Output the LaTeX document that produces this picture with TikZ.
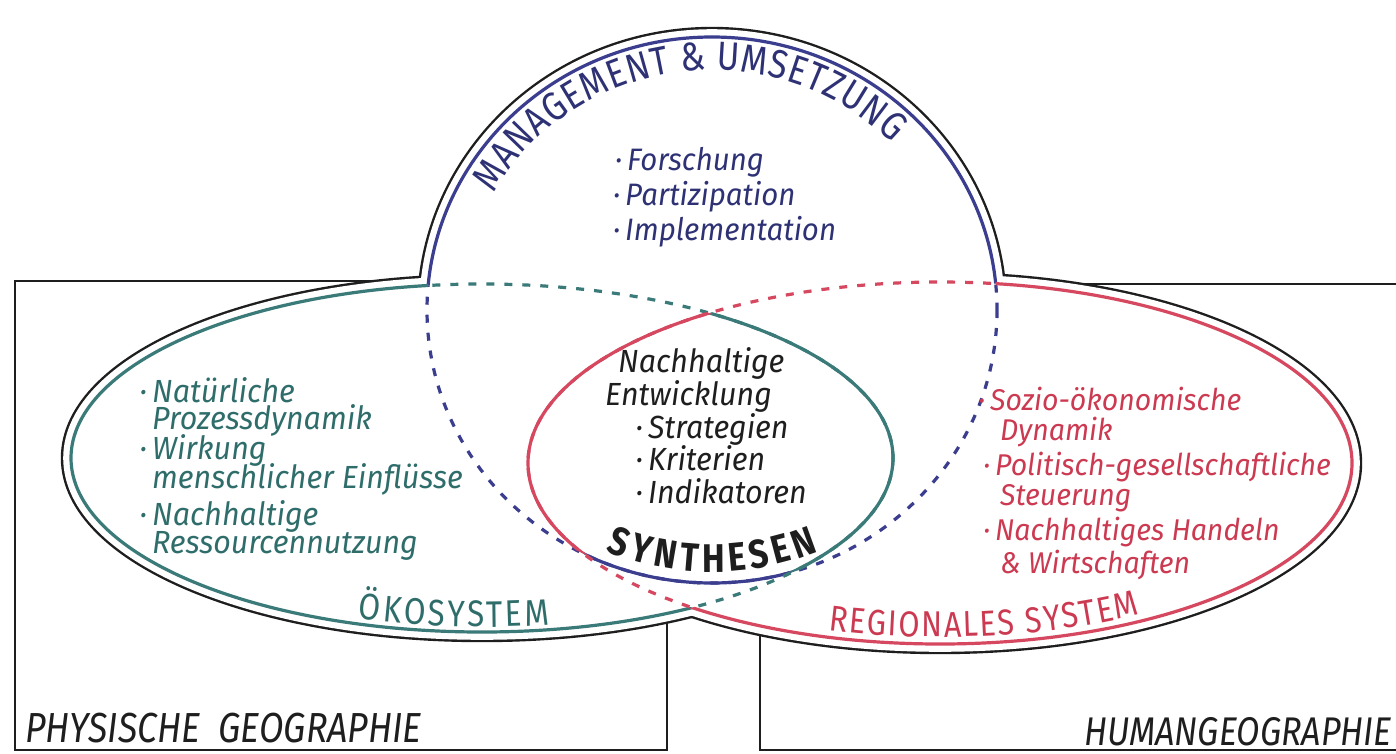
\documentclass[tikz,border=0pt]{standalone}
\usepackage{fontspec}
\setmainfont{Fira Sans}
\newfontfamily\handfont{Fira Sans}[FakeStretch=0.95]
\newfontfamily\capsfont{Fira Sans}[FakeStretch=0.85]
\usetikzlibrary{decorations.text}

\definecolor{mgblue}{HTML}{3B3D8E}
\definecolor{mgbluetext}{HTML}{2E3275}
\definecolor{ecoteal}{HTML}{3A7A78}
\definecolor{ecotealtext}{HTML}{2F6D6B}
\definecolor{regred}{HTML}{D6485F}
\definecolor{regredtext}{HTML}{CC3A52}
\definecolor{inkblack}{HTML}{1E1E1E}

% the three fields: management circle, ecosystem, regional system
\def\shapeM{(712,310) ellipse [x radius=285, y radius=273]}
\def\shapeO{(482,458) ellipse [x radius=411, y radius=174]}
\def\shapeR{(940,463) ellipse [x radius=412, y radius=181]}
\def\bigbox{(-60,-60) rectangle (1460,820)}

% boundary of one field: solid outside the others, dashed inside one, solid inside both
\newcommand\vennline[4]{%
  \begin{scope}[even odd rule]
    \clip \bigbox #3;
    \clip \bigbox #4;
    \draw[#1, solidline] #2;
  \end{scope}
  \begin{scope}
    \clip #3 #4;
    \draw[#1, dashline] #2;
  \end{scope}
  \begin{scope}
    \clip #3;
    \clip #4;
    \draw[#1, solidline] #2;
  \end{scope}}

\begin{document}
\begin{tikzpicture}[x=1pt,y=-1pt,
  boxline/.style={draw=inkblack, line width=2.5pt},
  solidline/.style={line width=3.2pt},
  dashline/.style={line width=3.2pt, dash pattern=on 8pt off 10pt},
  hand/.style={inner sep=0pt, anchor=base west, font=\handfont\itshape\fontsize{30}{30}\selectfont},
  ecohand/.style={hand, text=ecotealtext, font=\handfont\itshape\fontsize{32}{32}\selectfont},
  lenstext/.style={hand, text=inkblack, font=\handfont\itshape\fontsize{32}{32}\selectfont},
  mghand/.style={hand, text=mgbluetext, font=\handfont\itshape\fontsize{31}{31}\selectfont},
  boxlabel/.style={inner sep=0pt, anchor=base west, text=inkblack, font=\capsfont\itshape\fontsize{42}{42}\selectfont}
]
\useasboundingbox (0,0) rectangle (1396,753);
\fill[white] (0,0) rectangle (1396,753);

% subject boxes
\draw[boxline] (15,281) rectangle (667,750);
\draw[boxline] (760,284) rectangle (1440,750);

% black contour round the union of the three fields
\draw[inkblack, line width=20.4pt] \shapeM;
\draw[inkblack, line width=20.4pt] \shapeO;
\draw[inkblack, line width=20.4pt] \shapeR;
\fill[white] \shapeM;
\fill[white] \shapeO;
\fill[white] \shapeR;
\draw[white, line width=15.6pt] \shapeM;
\draw[white, line width=15.6pt] \shapeO;
\draw[white, line width=15.6pt] \shapeR;

% coloured field boundaries
\vennline{mgblue}{\shapeM}{\shapeO}{\shapeR}
\vennline{ecoteal}{\shapeO}{\shapeM}{\shapeR}
\vennline{regred}{\shapeR}{\shapeM}{\shapeO}

% curved titles
\path[decorate, decoration={text along path, text align=fit to path, text color=mgbluetext,
    text={|\capsfont\fontsize{40}{40}\selectfont|MANAGEMENT {\&} UMSETZUNG}}]
  (712,310) ++(-151:250 and 240) arc[start angle=-151, end angle=-44, x radius=250, y radius=240];
\path[decorate, decoration={text along path, text align=fit to path, text color=inkblack,
    text={|\capsfont\bfseries\fontsize{40}{40}\selectfont|SYNTHESEN}}]
  (712,310) ++(113:273 and 262) arc[start angle=113, end angle=67, x radius=273, y radius=262];
\path[decorate, decoration={text along path, text align=fit to path, text color=ecotealtext,
    text={|\capsfont\fontsize{37}{37}\selectfont|ÖKOSYSTEM}}]
  (482,458) ++(107.8:406 and 169) arc[start angle=107.8, end angle=80.4, x radius=406, y radius=169];
\path[decorate, decoration={text along path, text align=fit to path, text color=regredtext,
    text={|\capsfont\fontsize{36}{36}\selectfont|REGIONALES SYSTEM}}]
  (940,463) ++(106:405 and 174) arc[start angle=106, end angle=60.4, x radius=405, y radius=174];

% management list
\node[mghand] (m1) at (627,170) {\llap{·\,}Forschung};
\node[mghand] (m2) at (625,205) {\llap{·\,}Partizipation};
\node[mghand] (m3) at (625,240) {\llap{·\,}Implementation};

% synthesis lens
\node[lenstext] (s1) at (618,372) {Nachhaltige};
\node[lenstext] (s2) at (605,405) {Entwicklung};
\node[lenstext] (s3) at (648,438) {\llap{·\,}Strategien};
\node[lenstext] (s4) at (648,470) {\llap{·\,}Kriterien};
\node[lenstext] (s5) at (648,503) {\llap{·\,}Indikatoren};

% ecosystem list
\node[ecohand] (e1) at (152,402) {\llap{·\,}Natürliche};
\node[ecohand] (e2) at (152,429) {Prozessdynamik};
\node[ecohand] (e3) at (152,459) {\llap{·\,}Wirkung};
\node[ecohand] (e4) at (152,488) {menschlicher Einflüsse};
\node[ecohand] (e5) at (152,525) {\llap{·\,}Nachhaltige};
\node[ecohand] (e6) at (152,553) {Ressourcennutzung};

% regional system list
\node[hand, text=regredtext] (r1) at (990,410) {\llap{·\,}Sozio-ökonomische};
\node[hand, text=regredtext] (r2) at (1000,440) {Dynamik};
\node[hand, text=regredtext] (r3) at (995,475) {\llap{·\,}Politisch-gesellschaftliche};
\node[hand, text=regredtext] (r4) at (1000,505) {Steuerung};
\node[hand, text=regredtext] (r5) at (995,540) {\llap{·\,}Nachhaltiges Handeln};
\node[hand, text=regredtext] (r6) at (1000,573) {\& Wirtschaften};

% subject labels
\node[boxlabel] (phys) at (25,742) {PHYSISCHE\ \ GEOGRAPHIE};
\node[boxlabel, font=\capsfont\itshape\fontsize{40}{40}\selectfont] (human) at (1084,745) {HUMANGEOGRAPHIE};
\end{tikzpicture}
\end{document}
